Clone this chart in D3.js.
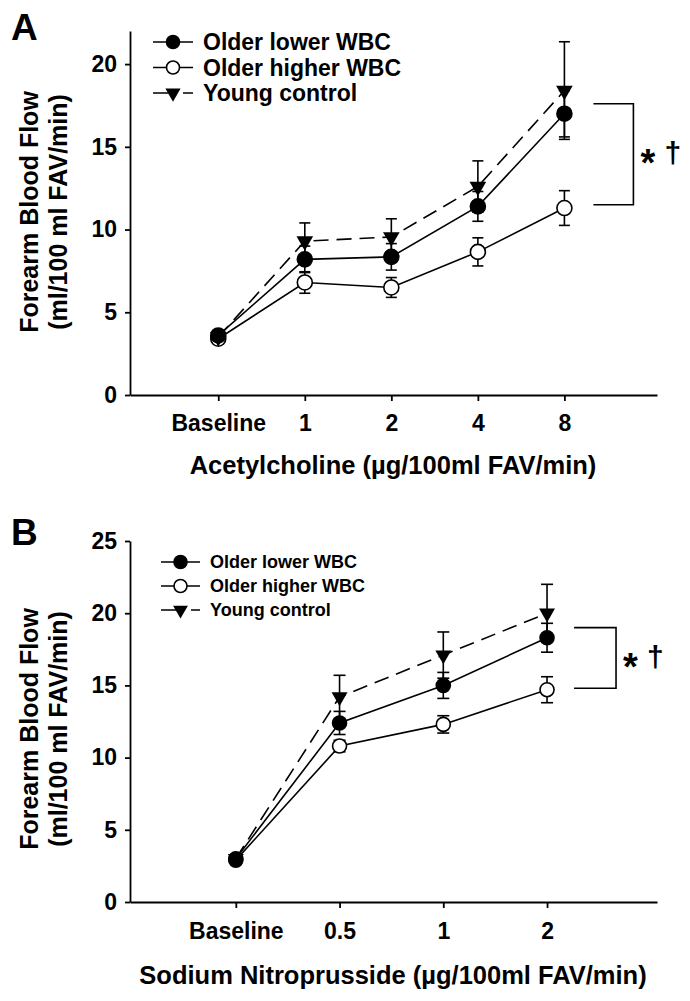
<!DOCTYPE html>
<html><head><meta charset="utf-8">
<script src="https://cdn.jsdelivr.net/npm/d3@7"></script>
<style>
body{margin:0;background:#fff;}
svg{display:block;font-family:"Liberation Sans",Arial,sans-serif;font-weight:bold;}
</style></head><body>
<svg id="c" width="690" height="1001"></svg>
<script>
// ---------- data ----------
const seriesNames = ["Older lower WBC", "Older higher WBC", "Young control"];

const categoriesA = ["Baseline", "1", "2", "4", "8"];
const lowerA    = [3.6, 8.2, 8.35, 11.4, 17.0];
const lowerSeA  = [0.2, 0.8, 0.8, 0.9, 1.4];
const higherA   = [3.4, 6.8, 6.5, 8.65, 11.3];
const higherSeA = [0.2, 0.65, 0.6, 0.85, 1.05];
const youngA    = [3.5, 9.3, 9.55, 12.6, 18.4];
const youngSeA  = [0.2, 1.1, 1.1, 1.55, 2.95];
const yTicksA   = [0, 5, 10, 15, 20];
const bracketA  = [17.6, 11.5];

const categoriesB = ["Baseline", "0.5", "1", "2"];
const lowerB    = [3.0, 12.4, 15.0, 18.3];
const lowerSeB  = [0.2, 0.8, 0.9, 1.0];
const higherB   = [2.9, 10.8, 12.3, 14.7];
const higherSeB = [0.2, 0.4, 0.6, 0.9];
const youngB    = [3.0, 14.2, 17.1, 20.0];
const youngSeB  = [0.2, 1.5, 1.6, 2.0];
const yTicksB   = [0, 5, 10, 15, 20, 25];
const bracketB  = [19.0, 14.8];

const yTitle1 = "Forearm Blood Flow";
const yTitle2 = "(ml/100 ml FAV/min)";
const xTitleA = "Acetylcholine (µg/100ml FAV/min)";
const xTitleB = "Sodium Nitroprusside (µg/100ml FAV/min)";
const sigText = ["*", "†"];

// ---------- drawing ----------
const svg = d3.select("#c");
const DASH = "15,8";

function drawPanel(o) {
  const g = svg.append("g");
  const n = o.cats.length;
  const x = d3.scaleLinear().domain(o.xDomain).range([130, 657]);
  const y = d3.scaleLinear().domain(o.yDomain).range(o.yRange);

  // axes
  const ya = g.append("g").attr("transform", "translate(130,0)")
    .call(d3.axisLeft(y).tickValues(o.yTicks).tickSize(5).tickSizeOuter(0).tickPadding(8));
  const xa = g.append("g").attr("transform", `translate(0,${o.yRange[0]})`)
    .call(d3.axisBottom(x).tickValues(d3.range(n)).tickFormat(i => o.cats[i])
      .tickSize(6).tickSizeOuter(0).tickPadding(o.xPad));
  [ya, xa].forEach(a => {
    a.attr("font-family", null).attr("font-size", null);
    a.selectAll("path,line").attr("stroke", "#000").attr("stroke-width", 1.8);
    a.selectAll("text").attr("font-size", o.tickFont).attr("fill", "#000");
  });

  const series = [
    {name: seriesNames[1], v: o.higher, se: o.higherSe, type: "open",  dash: null},
    {name: seriesNames[2], v: o.young,  se: o.youngSe,  type: "tri",   dash: DASH},
    {name: seriesNames[0], v: o.lower,  se: o.lowerSe,  type: "fill",  dash: null}
  ];
  const line = d3.line().x((d, i) => x(i)).y(d => y(d));

  series.forEach(s => {
    g.append("path").attr("d", line(s.v)).attr("fill", "none")
      .attr("stroke", "#000").attr("stroke-width", 1.6)
      .attr("stroke-dasharray", s.dash);
  });
  series.forEach(s => {
    s.v.forEach((v, i) => {
      const cx = x(i);
      g.append("line").attr("x1", cx).attr("x2", cx)
        .attr("y1", y(v - s.se[i])).attr("y2", y(v + s.se[i]))
        .attr("stroke", "#000").attr("stroke-width", 1.6);
      [v - s.se[i], v + s.se[i]].forEach(e => {
        g.append("line").attr("x1", cx - o.cap).attr("x2", cx + o.cap)
          .attr("y1", y(e)).attr("y2", y(e))
          .attr("stroke", "#000").attr("stroke-width", 1.6);
      });
    });
  });
  function marker(sel, type, cx, cy, r, triSize) {
    if (type === "tri") {
      sel.append("path").attr("d", d3.symbol(d3.symbolTriangle, triSize)())
        .attr("transform", `translate(${cx},${cy}) rotate(180)`)
        .attr("fill", "#000");
    } else {
      sel.append("circle").attr("cx", cx).attr("cy", cy).attr("r", r)
        .attr("fill", type === "fill" ? "#000" : "#fff")
        .attr("stroke", "#000").attr("stroke-width", 1.6);
    }
  }
  series.forEach(s => {
    s.v.forEach((v, i) => marker(g, s.type, x(i), y(v), o.r, o.tri));
  });

  // legend
  const legOrder = [series[2], series[0], series[1]];
  legOrder.forEach((s, k) => {
    const ly = o.leg.y + k * o.leg.dy;
    g.append("line").attr("x1", o.leg.x0).attr("x2", o.leg.x1)
      .attr("y1", ly).attr("y2", ly).attr("stroke", "#000").attr("stroke-width", 1.6)
      .attr("stroke-dasharray", s.dash ? "22,8" : null);
    marker(g, s.type, (o.leg.x0 + o.leg.x1) / 2, ly, o.leg.r, o.leg.tri);
    g.append("text").attr("x", o.leg.tx).attr("y", ly).attr("dy", "0.36em")
      .attr("font-size", o.leg.font).text(s.name);
  });

  // bracket
  const bx0 = x(n - 1) + o.br.dx, bx1 = bx0 + o.br.w;
  g.append("path")
    .attr("d", `M${bx0},${y(o.bracket[0])}H${bx1}V${y(o.bracket[1])}H${bx0}`)
    .attr("fill", "none").attr("stroke", "#000").attr("stroke-width", 1.6);
  const my = (y(o.bracket[0]) + y(o.bracket[1])) / 2;
  g.append("text").attr("x", bx1 + 7).attr("y", my + 22).attr("font-size", 38).text(sigText[0]);
  g.append("text").attr("x", bx1 + 31).attr("y", my + 9).attr("font-size", 30).text(sigText[1]);

  // titles
  g.append("text").attr("x", 11).attr("y", o.labelY).attr("font-size", 37).text(o.label);
  g.append("text").attr("x", 393).attr("y", o.xTitleY).attr("text-anchor", "middle")
    .attr("font-size", o.xTitleFont).text(o.xTitle);
  const cy = o.yTitleC;
  g.append("text").attr("transform", `translate(38,${cy}) rotate(-90)`)
    .attr("text-anchor", "middle").attr("font-size", 25).text(yTitle1);
  g.append("text").attr("transform", `translate(67,${cy}) rotate(-90)`)
    .attr("text-anchor", "middle").attr("font-size", 25).text(yTitle2);
}

drawPanel({
  cats: categoriesA, lower: lowerA, lowerSe: lowerSeA, higher: higherA, higherSe: higherSeA,
  young: youngA, youngSe: youngSeA, yTicks: yTicksA, bracket: bracketA,
  xDomain: [-1.02, 5.07], yDomain: [0, 22], yRange: [395, 31],
  tickFont: 23, xPad: 14, cap: 5.5, r: 7.5, tri: 120,
  leg: {y: 42, dy: 25.5, x0: 153, x1: 193, tx: 203, font: 23, r: 6.5, tri: 100},
  br: {dx: 29, w: 40},
  label: "A", labelY: 40, xTitle: xTitleA, xTitleY: 474, xTitleFont: 25.5, yTitleC: 212
});
drawPanel({
  cats: categoriesB, lower: lowerB, lowerSe: lowerSeB, higher: higherB, higherSe: higherSeB,
  young: youngB, youngSe: youngSeB, yTicks: yTicksB, bracket: bracketB,
  xDomain: [-1.02, 4.06], yDomain: [0, 25], yRange: [902, 541],
  tickFont: 23, xPad: 15, cap: 6, r: 7, tri: 110,
  leg: {y: 562, dy: 24, x0: 161, x1: 200, tx: 210, font: 18, r: 6.5, tri: 95},
  br: {dx: 27, w: 42},
  label: "B", labelY: 545, xTitle: xTitleB, xTitleY: 984, xTitleFont: 25.5, yTitleC: 729
});
</script>
</body></html>
